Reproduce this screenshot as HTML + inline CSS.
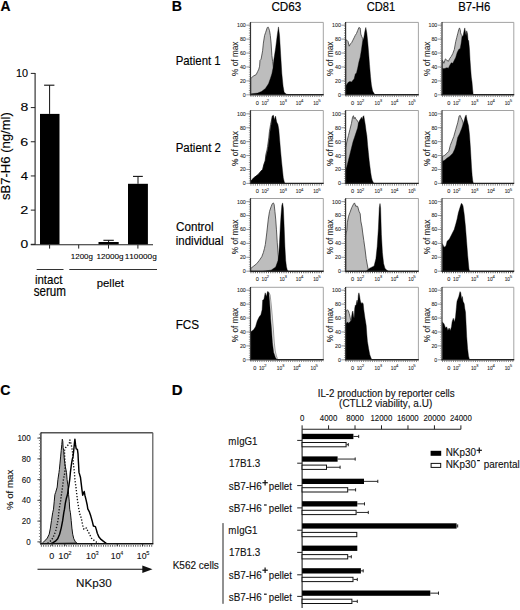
<!DOCTYPE html>
<html><head><meta charset="utf-8">
<style>
html,body{margin:0;padding:0;background:#fff;}
body{width:520px;height:610px;overflow:hidden;}
svg{display:block;}
text{font-family:"Liberation Sans", sans-serif;font-kerning:none;}
</style></head>
<body>
<svg width="520" height="610" viewBox="0 0 520 610">
<rect x="0" y="0" width="520" height="610" fill="#fff"/>
<text transform="matrix(0.13862 0 0 0.14535 0.55 11.20)" font-size="100" font-weight="bold" fill="#000" stroke="#000" stroke-width="1.23">A</text>
<text transform="matrix(0.14102 0 0 0.14244 171.86 10.80)" font-size="100" font-weight="bold" fill="#000" stroke="#000" stroke-width="1.21">B</text>
<text transform="matrix(0.14071 0 0 0.15181 0.32 394.60)" font-size="100" font-weight="bold" fill="#000" stroke="#000" stroke-width="1.25">C</text>
<text transform="matrix(0.15001 0 0 0.15262 171.80 394.60)" font-size="100" font-weight="bold" fill="#000" stroke="#000" stroke-width="1.21">D</text>
<line x1="35.10" y1="72.90" x2="35.10" y2="244.80" stroke="#222" stroke-width="1.1"/>
<line x1="30.80" y1="244.30" x2="35.10" y2="244.30" stroke="#222" stroke-width="1.0"/>
<text transform="matrix(0.13807 0 0 0.10884 20.46 248.10)" font-size="100" fill="#000" stroke="#000" stroke-width="1.07">0</text>
<line x1="30.80" y1="210.12" x2="35.10" y2="210.12" stroke="#222" stroke-width="1.0"/>
<text transform="matrix(0.14487 0 0 0.10884 20.27 213.92)" font-size="100" fill="#000" stroke="#000" stroke-width="1.04">2</text>
<line x1="30.80" y1="175.94" x2="35.10" y2="175.94" stroke="#222" stroke-width="1.0"/>
<text transform="matrix(0.13098 0 0 0.11047 20.70 179.74)" font-size="100" fill="#000" stroke="#000" stroke-width="1.10">4</text>
<line x1="30.80" y1="141.76" x2="35.10" y2="141.76" stroke="#222" stroke-width="1.0"/>
<text transform="matrix(0.14303 0 0 0.10884 20.27 145.56)" font-size="100" fill="#000" stroke="#000" stroke-width="1.05">6</text>
<line x1="30.80" y1="107.58" x2="35.10" y2="107.58" stroke="#222" stroke-width="1.0"/>
<text transform="matrix(0.14065 0 0 0.10884 20.39 111.38)" font-size="100" fill="#000" stroke="#000" stroke-width="1.06">8</text>
<line x1="30.80" y1="73.40" x2="35.10" y2="73.40" stroke="#222" stroke-width="1.0"/>
<text transform="matrix(0.10832 0 0 0.10884 15.97 77.20)" font-size="100" fill="#000" stroke="#000" stroke-width="1.20">10</text>
<line x1="30.80" y1="244.80" x2="153.00" y2="244.80" stroke="#222" stroke-width="1.1"/>
<line x1="49.60" y1="244.80" x2="49.60" y2="248.60" stroke="#222" stroke-width="1.0"/>
<line x1="78.70" y1="244.80" x2="78.70" y2="248.60" stroke="#222" stroke-width="1.0"/>
<line x1="108.50" y1="244.80" x2="108.50" y2="248.60" stroke="#222" stroke-width="1.0"/>
<line x1="137.90" y1="244.80" x2="137.90" y2="248.60" stroke="#222" stroke-width="1.0"/>
<rect x="40.00" y="113.90" width="19.50" height="130.40" fill="#000" stroke="none" stroke-width="0"/>
<rect x="98.50" y="242.00" width="20.20" height="2.30" fill="#000" stroke="none" stroke-width="0"/>
<rect x="128.00" y="183.80" width="19.90" height="60.50" fill="#000" stroke="none" stroke-width="0"/>
<line x1="49.60" y1="113.90" x2="49.60" y2="85.20" stroke="#111" stroke-width="1.0"/>
<line x1="44.10" y1="85.20" x2="54.40" y2="85.20" stroke="#111" stroke-width="1.1"/>
<line x1="108.60" y1="242.00" x2="108.60" y2="240.30" stroke="#111" stroke-width="1.0"/>
<line x1="103.40" y1="240.30" x2="113.80" y2="240.30" stroke="#111" stroke-width="1.1"/>
<line x1="138.00" y1="183.80" x2="138.00" y2="176.40" stroke="#111" stroke-width="1.0"/>
<line x1="133.00" y1="176.40" x2="142.80" y2="176.40" stroke="#111" stroke-width="1.1"/>
<text transform="matrix(0.07954 0 0 0.07018 70.79 259.30)" font-size="100" fill="#000" stroke="#000" stroke-width="1.13">1200g</text>
<text transform="matrix(0.08166 0 0 0.07018 96.38 259.30)" font-size="100" fill="#000" stroke="#000" stroke-width="1.11">12000g</text>
<text transform="matrix(0.08261 0 0 0.07018 124.67 259.30)" font-size="100" fill="#000" stroke="#000" stroke-width="1.11">110000g</text>
<line x1="36.70" y1="269.50" x2="63.50" y2="269.50" stroke="#333" stroke-width="1.0"/>
<line x1="69.30" y1="269.50" x2="157.00" y2="269.50" stroke="#333" stroke-width="1.0"/>
<text transform="matrix(0.11486 0 0 0.12144 34.93 283.50)" font-size="100" fill="#000" stroke="#000" stroke-width="1.23">intact</text>
<text transform="matrix(0.11659 0 0 0.13752 33.68 295.60)" font-size="100" fill="#000" stroke="#000" stroke-width="1.30">serum</text>
<text transform="matrix(0.11342 0 0 0.11316 96.77 286.50)" font-size="100" fill="#000" stroke="#000" stroke-width="1.20">pellet</text>
<text transform="matrix(0 -0.13054 0.12558 0 9.90 199.96)" font-size="100" fill="#000" stroke="#000" stroke-width="1.18">sB7-H6 (ng/ml)</text>
<text transform="matrix(0.11698 0 0 0.13319 271.41 10.80)" font-size="100" fill="#000" stroke="#000" stroke-width="1.28">CD63</text>
<text transform="matrix(0.11152 0 0 0.13319 366.63 10.80)" font-size="100" fill="#000" stroke="#000" stroke-width="1.31">CD81</text>
<text transform="matrix(0.11372 0 0 0.13033 458.17 10.80)" font-size="100" fill="#000" stroke="#000" stroke-width="1.28">B7-H6</text>
<text transform="matrix(0.11424 0 0 0.11868 175.66 65.40)" font-size="100" fill="#000" stroke="#000" stroke-width="1.22">Patient 1</text>
<text transform="matrix(0.11481 0 0 0.11868 175.66 152.10)" font-size="100" fill="#000" stroke="#000" stroke-width="1.22">Patient 2</text>
<text transform="matrix(0.11655 0 0 0.12006 176.01 230.90)" font-size="100" fill="#000" stroke="#000" stroke-width="1.22">Control</text>
<text transform="matrix(0.11448 0 0 0.12006 175.83 244.70)" font-size="100" fill="#000" stroke="#000" stroke-width="1.23">individual</text>
<text transform="matrix(0.11752 0 0 0.12460 175.64 328.50)" font-size="100" fill="#000" stroke="#000" stroke-width="1.24">FCS</text>
<rect x="250.50" y="22.40" width="72.80" height="72.40" fill="#fff" stroke="none" stroke-width="0"/>
<path d="M250.77,95.10 L250.77,78.00 L251.50,77.69 L253.80,75.80 L256.20,74.60 L257.69,71.51 L258.80,69.20 L259.60,66.20 L260.00,60.31 L261.08,59.23 L262.62,50.77 L263.38,43.08 L264.62,35.38 L265.69,32.31 L267.23,27.69 L268.00,26.92 L268.77,28.46 L269.54,30.77 L270.31,35.38 L271.08,43.08 L271.85,55.38 L272.62,61.54 L274.15,70.77 L275.69,81.54 L277.23,89.23 L278.77,93.08 L280.31,94.80 L280.31,95.10" fill="#bdbdbd" stroke="#3a3a3a" stroke-width="0.8" stroke-linejoin="round"/>
<path d="M250.77,95.10 L250.77,94.00 L251.50,93.80 L257.69,93.11 L261.50,91.51 L265.40,88.51 L268.50,83.80 L270.40,78.51 L271.90,73.80 L273.10,67.69 L273.80,60.00 L275.69,47.69 L277.23,35.38 L278.46,26.92 L279.54,35.38 L280.62,53.85 L281.85,73.85 L283.08,86.15 L284.15,92.31 L286.46,94.15 L289.54,94.80 L289.54,95.10" fill="#000" stroke="#000" stroke-width="0.4" stroke-linejoin="round"/>
<line x1="250.50" y1="22.40" x2="323.30" y2="22.40" stroke="#8a8a8a" stroke-width="0.8"/>
<line x1="323.30" y1="22.40" x2="323.30" y2="94.80" stroke="#9a9a9a" stroke-width="0.9"/>
<line x1="250.50" y1="22.10" x2="250.50" y2="95.30" stroke="#333" stroke-width="1.2"/>
<line x1="249.90" y1="94.80" x2="323.70" y2="94.80" stroke="#222" stroke-width="1.4"/>
<line x1="250.50" y1="96.20" x2="323.30" y2="96.20" stroke="#555" stroke-width="1.3" stroke-dasharray="0.9 1.3"/>
<line x1="249.40" y1="23.40" x2="249.40" y2="94.80" stroke="#888" stroke-width="1.1" stroke-dasharray="0.8 1.5"/>
<line x1="246.30" y1="25.20" x2="250.50" y2="25.20" stroke="#555" stroke-width="0.6"/>
<text transform="matrix(0.05320 0 0 0.05585 236.93 27.15)" font-size="100" fill="#222" stroke="#222" stroke-width="1.23">100</text>
<line x1="246.30" y1="39.12" x2="250.50" y2="39.12" stroke="#555" stroke-width="0.6"/>
<text transform="matrix(0.05320 0 0 0.05585 239.89 41.07)" font-size="100" fill="#222" stroke="#222" stroke-width="1.23">80</text>
<line x1="246.30" y1="53.04" x2="250.50" y2="53.04" stroke="#555" stroke-width="0.6"/>
<text transform="matrix(0.05320 0 0 0.05585 239.89 54.99)" font-size="100" fill="#222" stroke="#222" stroke-width="1.23">60</text>
<line x1="246.30" y1="66.96" x2="250.50" y2="66.96" stroke="#555" stroke-width="0.6"/>
<text transform="matrix(0.05320 0 0 0.05585 239.89 68.91)" font-size="100" fill="#222" stroke="#222" stroke-width="1.23">40</text>
<line x1="246.30" y1="80.88" x2="250.50" y2="80.88" stroke="#555" stroke-width="0.6"/>
<text transform="matrix(0.05320 0 0 0.05585 239.89 82.83)" font-size="100" fill="#222" stroke="#222" stroke-width="1.23">20</text>
<line x1="246.30" y1="94.80" x2="250.50" y2="94.80" stroke="#555" stroke-width="0.6"/>
<text transform="matrix(0.05320 0 0 0.05585 242.85 96.75)" font-size="100" fill="#222" stroke="#222" stroke-width="1.23">0</text>
<text transform="matrix(0 -0.08249 0.08568 0 238.30 75.89)" font-size="100" fill="#222" stroke="#222" stroke-width="1.22">% of max</text>
<text transform="matrix(0.05648 0 0 0.05299 255.78 104.50)" font-size="100" fill="#222" stroke="#222" stroke-width="1.16">0</text>
<text transform="matrix(0.04814 0 0 0.05299 261.53 104.50)" font-size="100" fill="#222" stroke="#222" stroke-width="1.26">10</text>
<text transform="matrix(0.04610 0 0 0.04153 266.57 101.90)" font-size="100" fill="#222" stroke="#222" stroke-width="1.14">2</text>
<text transform="matrix(0.04814 0 0 0.05299 279.43 104.50)" font-size="100" fill="#222" stroke="#222" stroke-width="1.26">10</text>
<text transform="matrix(0.04429 0 0 0.04153 284.53 101.90)" font-size="100" fill="#222" stroke="#222" stroke-width="1.16">3</text>
<text transform="matrix(0.04814 0 0 0.05299 295.73 104.50)" font-size="100" fill="#222" stroke="#222" stroke-width="1.26">10</text>
<text transform="matrix(0.04167 0 0 0.04215 300.90 101.90)" font-size="100" fill="#222" stroke="#222" stroke-width="1.21">4</text>
<text transform="matrix(0.04814 0 0 0.05299 313.13 104.50)" font-size="100" fill="#222" stroke="#222" stroke-width="1.26">10</text>
<text transform="matrix(0.04429 0 0 0.04215 318.22 101.90)" font-size="100" fill="#222" stroke="#222" stroke-width="1.17">5</text>
<rect x="345.60" y="22.40" width="72.80" height="72.40" fill="#fff" stroke="none" stroke-width="0"/>
<path d="M345.77,95.10 L345.77,39.69 L346.80,40.20 L348.00,41.40 L349.20,46.20 L350.50,43.80 L351.70,42.60 L352.90,40.20 L354.10,37.80 L355.30,35.31 L356.50,33.51 L357.70,30.51 L358.90,27.51 L360.20,28.11 L360.80,34.11 L361.70,36.51 L362.60,38.40 L363.46,41.54 L364.23,50.77 L364.85,94.80 L364.85,95.10" fill="#bdbdbd" stroke="#3a3a3a" stroke-width="0.8" stroke-linejoin="round"/>
<path d="M345.77,95.10 L345.77,85.54 L346.50,85.00 L348.00,82.60 L349.80,81.40 L351.70,82.00 L352.90,80.20 L354.10,79.00 L355.30,74.11 L356.50,72.91 L357.70,68.11 L358.90,62.00 L360.20,57.20 L361.40,49.91 L362.60,41.40 L363.80,37.80 L364.80,31.71 L365.80,27.51 L366.80,32.91 L367.70,41.40 L368.60,52.31 L369.50,64.40 L370.50,76.51 L371.40,85.00 L372.60,91.11 L374.10,93.51 L375.31,94.80 L375.31,95.10" fill="#000" stroke="#000" stroke-width="0.4" stroke-linejoin="round"/>
<line x1="345.60" y1="22.40" x2="418.40" y2="22.40" stroke="#8a8a8a" stroke-width="0.8"/>
<line x1="418.40" y1="22.40" x2="418.40" y2="94.80" stroke="#9a9a9a" stroke-width="0.9"/>
<line x1="345.60" y1="22.10" x2="345.60" y2="95.30" stroke="#333" stroke-width="1.2"/>
<line x1="345.00" y1="94.80" x2="418.80" y2="94.80" stroke="#222" stroke-width="1.4"/>
<line x1="345.60" y1="96.20" x2="418.40" y2="96.20" stroke="#555" stroke-width="1.3" stroke-dasharray="0.9 1.3"/>
<line x1="344.50" y1="23.40" x2="344.50" y2="94.80" stroke="#888" stroke-width="1.1" stroke-dasharray="0.8 1.5"/>
<line x1="341.40" y1="25.20" x2="345.60" y2="25.20" stroke="#555" stroke-width="0.6"/>
<text transform="matrix(0.05320 0 0 0.05585 332.03 27.15)" font-size="100" fill="#222" stroke="#222" stroke-width="1.23">100</text>
<line x1="341.40" y1="39.12" x2="345.60" y2="39.12" stroke="#555" stroke-width="0.6"/>
<text transform="matrix(0.05320 0 0 0.05585 334.99 41.07)" font-size="100" fill="#222" stroke="#222" stroke-width="1.23">80</text>
<line x1="341.40" y1="53.04" x2="345.60" y2="53.04" stroke="#555" stroke-width="0.6"/>
<text transform="matrix(0.05320 0 0 0.05585 334.99 54.99)" font-size="100" fill="#222" stroke="#222" stroke-width="1.23">60</text>
<line x1="341.40" y1="66.96" x2="345.60" y2="66.96" stroke="#555" stroke-width="0.6"/>
<text transform="matrix(0.05320 0 0 0.05585 334.99 68.91)" font-size="100" fill="#222" stroke="#222" stroke-width="1.23">40</text>
<line x1="341.40" y1="80.88" x2="345.60" y2="80.88" stroke="#555" stroke-width="0.6"/>
<text transform="matrix(0.05320 0 0 0.05585 334.99 82.83)" font-size="100" fill="#222" stroke="#222" stroke-width="1.23">20</text>
<line x1="341.40" y1="94.80" x2="345.60" y2="94.80" stroke="#555" stroke-width="0.6"/>
<text transform="matrix(0.05320 0 0 0.05585 337.95 96.75)" font-size="100" fill="#222" stroke="#222" stroke-width="1.23">0</text>
<text transform="matrix(0 -0.08249 0.08568 0 333.40 75.89)" font-size="100" fill="#222" stroke="#222" stroke-width="1.22">% of max</text>
<text transform="matrix(0.05648 0 0 0.05299 350.88 104.50)" font-size="100" fill="#222" stroke="#222" stroke-width="1.16">0</text>
<text transform="matrix(0.04814 0 0 0.05299 356.63 104.50)" font-size="100" fill="#222" stroke="#222" stroke-width="1.26">10</text>
<text transform="matrix(0.04610 0 0 0.04153 361.67 101.90)" font-size="100" fill="#222" stroke="#222" stroke-width="1.14">2</text>
<text transform="matrix(0.04814 0 0 0.05299 374.53 104.50)" font-size="100" fill="#222" stroke="#222" stroke-width="1.26">10</text>
<text transform="matrix(0.04429 0 0 0.04153 379.63 101.90)" font-size="100" fill="#222" stroke="#222" stroke-width="1.16">3</text>
<text transform="matrix(0.04814 0 0 0.05299 390.83 104.50)" font-size="100" fill="#222" stroke="#222" stroke-width="1.26">10</text>
<text transform="matrix(0.04167 0 0 0.04215 396.00 101.90)" font-size="100" fill="#222" stroke="#222" stroke-width="1.21">4</text>
<text transform="matrix(0.04814 0 0 0.05299 408.23 104.50)" font-size="100" fill="#222" stroke="#222" stroke-width="1.26">10</text>
<text transform="matrix(0.04429 0 0 0.04215 413.32 101.90)" font-size="100" fill="#222" stroke="#222" stroke-width="1.17">5</text>
<rect x="442.00" y="22.40" width="71.80" height="72.40" fill="#fff" stroke="none" stroke-width="0"/>
<path d="M442.31,95.10 L442.31,60.62 L442.50,60.31 L443.90,63.31 L445.40,58.91 L446.90,60.31 L448.40,61.31 L449.80,58.40 L451.30,56.40 L452.80,53.51 L454.30,49.51 L455.70,41.69 L456.70,37.69 L457.70,33.80 L458.70,29.91 L459.50,27.91 L460.20,29.91 L460.60,32.80 L461.10,34.31 L462.10,35.80 L463.38,50.77 L464.15,94.80 L464.15,95.10" fill="#bdbdbd" stroke="#3a3a3a" stroke-width="0.8" stroke-linejoin="round"/>
<path d="M442.31,95.10 L442.31,68.31 L442.50,68.20 L443.90,68.71 L445.40,68.20 L446.90,67.69 L448.40,68.20 L449.80,65.31 L451.30,62.80 L452.80,63.31 L454.30,60.31 L455.70,57.40 L457.20,52.51 L458.70,49.51 L460.20,48.51 L461.10,43.60 L462.10,36.71 L463.10,35.80 L464.10,30.80 L464.80,27.91 L465.40,31.80 L466.10,35.80 L466.70,30.80 L467.50,33.80 L468.00,39.69 L468.70,40.71 L469.50,49.51 L470.00,59.40 L470.70,69.20 L471.30,77.11 L472.00,82.00 L472.62,89.23 L473.08,93.85 L473.69,94.80 L473.69,95.10" fill="#000" stroke="#000" stroke-width="0.4" stroke-linejoin="round"/>
<line x1="442.00" y1="22.40" x2="513.80" y2="22.40" stroke="#8a8a8a" stroke-width="0.8"/>
<line x1="513.80" y1="22.40" x2="513.80" y2="94.80" stroke="#9a9a9a" stroke-width="0.9"/>
<line x1="442.00" y1="22.10" x2="442.00" y2="95.30" stroke="#333" stroke-width="1.2"/>
<line x1="441.40" y1="94.80" x2="514.20" y2="94.80" stroke="#222" stroke-width="1.4"/>
<line x1="442.00" y1="96.20" x2="513.80" y2="96.20" stroke="#555" stroke-width="1.3" stroke-dasharray="0.9 1.3"/>
<line x1="440.90" y1="23.40" x2="440.90" y2="94.80" stroke="#888" stroke-width="1.1" stroke-dasharray="0.8 1.5"/>
<line x1="437.80" y1="25.20" x2="442.00" y2="25.20" stroke="#555" stroke-width="0.6"/>
<text transform="matrix(0.05320 0 0 0.05585 428.43 27.15)" font-size="100" fill="#222" stroke="#222" stroke-width="1.23">100</text>
<line x1="437.80" y1="39.12" x2="442.00" y2="39.12" stroke="#555" stroke-width="0.6"/>
<text transform="matrix(0.05320 0 0 0.05585 431.39 41.07)" font-size="100" fill="#222" stroke="#222" stroke-width="1.23">80</text>
<line x1="437.80" y1="53.04" x2="442.00" y2="53.04" stroke="#555" stroke-width="0.6"/>
<text transform="matrix(0.05320 0 0 0.05585 431.39 54.99)" font-size="100" fill="#222" stroke="#222" stroke-width="1.23">60</text>
<line x1="437.80" y1="66.96" x2="442.00" y2="66.96" stroke="#555" stroke-width="0.6"/>
<text transform="matrix(0.05320 0 0 0.05585 431.39 68.91)" font-size="100" fill="#222" stroke="#222" stroke-width="1.23">40</text>
<line x1="437.80" y1="80.88" x2="442.00" y2="80.88" stroke="#555" stroke-width="0.6"/>
<text transform="matrix(0.05320 0 0 0.05585 431.39 82.83)" font-size="100" fill="#222" stroke="#222" stroke-width="1.23">20</text>
<line x1="437.80" y1="94.80" x2="442.00" y2="94.80" stroke="#555" stroke-width="0.6"/>
<text transform="matrix(0.05320 0 0 0.05585 434.35 96.75)" font-size="100" fill="#222" stroke="#222" stroke-width="1.23">0</text>
<text transform="matrix(0 -0.08249 0.08568 0 429.80 75.89)" font-size="100" fill="#222" stroke="#222" stroke-width="1.22">% of max</text>
<text transform="matrix(0.05648 0 0 0.05299 447.28 104.50)" font-size="100" fill="#222" stroke="#222" stroke-width="1.16">0</text>
<text transform="matrix(0.04814 0 0 0.05299 453.03 104.50)" font-size="100" fill="#222" stroke="#222" stroke-width="1.26">10</text>
<text transform="matrix(0.04610 0 0 0.04153 458.07 101.90)" font-size="100" fill="#222" stroke="#222" stroke-width="1.14">2</text>
<text transform="matrix(0.04814 0 0 0.05299 470.93 104.50)" font-size="100" fill="#222" stroke="#222" stroke-width="1.26">10</text>
<text transform="matrix(0.04429 0 0 0.04153 476.03 101.90)" font-size="100" fill="#222" stroke="#222" stroke-width="1.16">3</text>
<text transform="matrix(0.04814 0 0 0.05299 487.23 104.50)" font-size="100" fill="#222" stroke="#222" stroke-width="1.26">10</text>
<text transform="matrix(0.04167 0 0 0.04215 492.40 101.90)" font-size="100" fill="#222" stroke="#222" stroke-width="1.21">4</text>
<text transform="matrix(0.04814 0 0 0.05299 504.63 104.50)" font-size="100" fill="#222" stroke="#222" stroke-width="1.26">10</text>
<text transform="matrix(0.04429 0 0 0.04215 509.72 101.90)" font-size="100" fill="#222" stroke="#222" stroke-width="1.17">5</text>
<rect x="250.50" y="110.50" width="72.80" height="72.90" fill="#fff" stroke="none" stroke-width="0"/>
<path d="M250.50,183.70 L250.50,180.62 L251.80,180.31 L253.60,177.91 L256.10,176.11 L258.50,174.20 L260.90,171.20 L262.70,169.40 L263.90,164.51 L265.20,160.91 L265.78,154.80 L266.98,150.00 L267.58,146.40 L268.78,137.91 L269.38,131.80 L270.58,124.51 L272.40,116.11 L273.30,115.51 L273.30,183.70" fill="#bdbdbd" stroke="#3a3a3a" stroke-width="0.8" stroke-linejoin="round"/>
<path d="M250.50,183.70 L250.50,180.62 L251.80,180.31 L253.60,177.91 L256.10,176.11 L258.50,174.20 L260.90,171.20 L262.70,169.40 L263.90,164.51 L265.20,160.91 L266.40,154.80 L267.60,150.00 L268.20,146.40 L269.40,137.91 L270.00,131.80 L271.20,124.51 L272.40,116.11 L273.30,115.51 L274.20,119.71 L275.50,116.11 L276.70,122.11 L277.90,124.51 L278.80,129.40 L279.70,140.31 L280.50,150.00 L281.50,160.91 L282.50,170.60 L283.30,177.91 L284.20,181.51 L284.92,183.40 L284.92,183.70" fill="#000" stroke="#000" stroke-width="0.4" stroke-linejoin="round"/>
<line x1="250.50" y1="110.50" x2="323.30" y2="110.50" stroke="#8a8a8a" stroke-width="0.8"/>
<line x1="323.30" y1="110.50" x2="323.30" y2="183.40" stroke="#9a9a9a" stroke-width="0.9"/>
<line x1="250.50" y1="110.20" x2="250.50" y2="183.90" stroke="#333" stroke-width="1.2"/>
<line x1="249.90" y1="183.40" x2="323.70" y2="183.40" stroke="#222" stroke-width="1.4"/>
<line x1="250.50" y1="184.80" x2="323.30" y2="184.80" stroke="#555" stroke-width="1.3" stroke-dasharray="0.9 1.3"/>
<line x1="249.40" y1="111.50" x2="249.40" y2="183.40" stroke="#888" stroke-width="1.1" stroke-dasharray="0.8 1.5"/>
<line x1="246.30" y1="113.80" x2="250.50" y2="113.80" stroke="#555" stroke-width="0.6"/>
<text transform="matrix(0.05320 0 0 0.05585 236.93 115.75)" font-size="100" fill="#222" stroke="#222" stroke-width="1.23">100</text>
<line x1="246.30" y1="127.72" x2="250.50" y2="127.72" stroke="#555" stroke-width="0.6"/>
<text transform="matrix(0.05320 0 0 0.05585 239.89 129.67)" font-size="100" fill="#222" stroke="#222" stroke-width="1.23">80</text>
<line x1="246.30" y1="141.64" x2="250.50" y2="141.64" stroke="#555" stroke-width="0.6"/>
<text transform="matrix(0.05320 0 0 0.05585 239.89 143.59)" font-size="100" fill="#222" stroke="#222" stroke-width="1.23">60</text>
<line x1="246.30" y1="155.56" x2="250.50" y2="155.56" stroke="#555" stroke-width="0.6"/>
<text transform="matrix(0.05320 0 0 0.05585 239.89 157.51)" font-size="100" fill="#222" stroke="#222" stroke-width="1.23">40</text>
<line x1="246.30" y1="169.48" x2="250.50" y2="169.48" stroke="#555" stroke-width="0.6"/>
<text transform="matrix(0.05320 0 0 0.05585 239.89 171.43)" font-size="100" fill="#222" stroke="#222" stroke-width="1.23">20</text>
<line x1="246.30" y1="183.40" x2="250.50" y2="183.40" stroke="#555" stroke-width="0.6"/>
<text transform="matrix(0.05320 0 0 0.05585 242.85 185.35)" font-size="100" fill="#222" stroke="#222" stroke-width="1.23">0</text>
<text transform="matrix(0 -0.08371 0.08568 0 238.30 166.00)" font-size="100" fill="#222" stroke="#222" stroke-width="1.21">% of max</text>
<text transform="matrix(0.05648 0 0 0.05299 255.78 193.10)" font-size="100" fill="#222" stroke="#222" stroke-width="1.16">0</text>
<text transform="matrix(0.04814 0 0 0.05299 261.53 193.10)" font-size="100" fill="#222" stroke="#222" stroke-width="1.26">10</text>
<text transform="matrix(0.04610 0 0 0.04153 266.57 190.50)" font-size="100" fill="#222" stroke="#222" stroke-width="1.14">2</text>
<text transform="matrix(0.04814 0 0 0.05299 279.43 193.10)" font-size="100" fill="#222" stroke="#222" stroke-width="1.26">10</text>
<text transform="matrix(0.04429 0 0 0.04153 284.53 190.50)" font-size="100" fill="#222" stroke="#222" stroke-width="1.16">3</text>
<text transform="matrix(0.04814 0 0 0.05299 295.73 193.10)" font-size="100" fill="#222" stroke="#222" stroke-width="1.26">10</text>
<text transform="matrix(0.04167 0 0 0.04215 300.90 190.50)" font-size="100" fill="#222" stroke="#222" stroke-width="1.21">4</text>
<text transform="matrix(0.04814 0 0 0.05299 313.13 193.10)" font-size="100" fill="#222" stroke="#222" stroke-width="1.26">10</text>
<text transform="matrix(0.04429 0 0 0.04215 318.22 190.50)" font-size="100" fill="#222" stroke="#222" stroke-width="1.17">5</text>
<rect x="345.60" y="110.50" width="72.80" height="72.90" fill="#fff" stroke="none" stroke-width="0"/>
<path d="M345.77,183.70 L345.77,148.00 L346.85,141.85 L348.38,135.69 L349.92,129.54 L351.46,123.38 L352.54,117.23 L353.46,115.69 L354.08,118.77 L355.00,117.23 L356.08,119.54 L357.15,120.31 L358.38,122.62 L359.62,126.46 L360.69,138.77 L361.46,183.40 L361.46,183.70" fill="#bdbdbd" stroke="#3a3a3a" stroke-width="0.8" stroke-linejoin="round"/>
<path d="M345.77,183.70 L345.77,169.54 L346.85,166.46 L348.38,160.31 L349.92,154.15 L351.46,148.00 L353.00,141.85 L354.54,137.23 L356.08,132.62 L357.62,128.00 L358.38,123.38 L359.62,120.31 L360.69,118.77 L361.46,117.23 L362.23,119.54 L363.00,116.46 L363.77,115.69 L364.54,120.31 L365.31,124.92 L366.08,131.08 L366.85,135.69 L367.62,144.92 L368.38,152.62 L369.15,160.31 L369.92,166.46 L370.69,172.62 L371.46,177.23 L372.23,180.31 L373.77,183.40 L375.31,183.40 L375.31,183.70" fill="#000" stroke="#000" stroke-width="0.4" stroke-linejoin="round"/>
<line x1="345.60" y1="110.50" x2="418.40" y2="110.50" stroke="#8a8a8a" stroke-width="0.8"/>
<line x1="418.40" y1="110.50" x2="418.40" y2="183.40" stroke="#9a9a9a" stroke-width="0.9"/>
<line x1="345.60" y1="110.20" x2="345.60" y2="183.90" stroke="#333" stroke-width="1.2"/>
<line x1="345.00" y1="183.40" x2="418.80" y2="183.40" stroke="#222" stroke-width="1.4"/>
<line x1="345.60" y1="184.80" x2="418.40" y2="184.80" stroke="#555" stroke-width="1.3" stroke-dasharray="0.9 1.3"/>
<line x1="344.50" y1="111.50" x2="344.50" y2="183.40" stroke="#888" stroke-width="1.1" stroke-dasharray="0.8 1.5"/>
<line x1="341.40" y1="113.80" x2="345.60" y2="113.80" stroke="#555" stroke-width="0.6"/>
<text transform="matrix(0.05320 0 0 0.05585 332.03 115.75)" font-size="100" fill="#222" stroke="#222" stroke-width="1.23">100</text>
<line x1="341.40" y1="127.72" x2="345.60" y2="127.72" stroke="#555" stroke-width="0.6"/>
<text transform="matrix(0.05320 0 0 0.05585 334.99 129.67)" font-size="100" fill="#222" stroke="#222" stroke-width="1.23">80</text>
<line x1="341.40" y1="141.64" x2="345.60" y2="141.64" stroke="#555" stroke-width="0.6"/>
<text transform="matrix(0.05320 0 0 0.05585 334.99 143.59)" font-size="100" fill="#222" stroke="#222" stroke-width="1.23">60</text>
<line x1="341.40" y1="155.56" x2="345.60" y2="155.56" stroke="#555" stroke-width="0.6"/>
<text transform="matrix(0.05320 0 0 0.05585 334.99 157.51)" font-size="100" fill="#222" stroke="#222" stroke-width="1.23">40</text>
<line x1="341.40" y1="169.48" x2="345.60" y2="169.48" stroke="#555" stroke-width="0.6"/>
<text transform="matrix(0.05320 0 0 0.05585 334.99 171.43)" font-size="100" fill="#222" stroke="#222" stroke-width="1.23">20</text>
<line x1="341.40" y1="183.40" x2="345.60" y2="183.40" stroke="#555" stroke-width="0.6"/>
<text transform="matrix(0.05320 0 0 0.05585 337.95 185.35)" font-size="100" fill="#222" stroke="#222" stroke-width="1.23">0</text>
<text transform="matrix(0 -0.08371 0.08568 0 333.40 166.00)" font-size="100" fill="#222" stroke="#222" stroke-width="1.21">% of max</text>
<text transform="matrix(0.05648 0 0 0.05299 350.88 193.10)" font-size="100" fill="#222" stroke="#222" stroke-width="1.16">0</text>
<text transform="matrix(0.04814 0 0 0.05299 356.63 193.10)" font-size="100" fill="#222" stroke="#222" stroke-width="1.26">10</text>
<text transform="matrix(0.04610 0 0 0.04153 361.67 190.50)" font-size="100" fill="#222" stroke="#222" stroke-width="1.14">2</text>
<text transform="matrix(0.04814 0 0 0.05299 374.53 193.10)" font-size="100" fill="#222" stroke="#222" stroke-width="1.26">10</text>
<text transform="matrix(0.04429 0 0 0.04153 379.63 190.50)" font-size="100" fill="#222" stroke="#222" stroke-width="1.16">3</text>
<text transform="matrix(0.04814 0 0 0.05299 390.83 193.10)" font-size="100" fill="#222" stroke="#222" stroke-width="1.26">10</text>
<text transform="matrix(0.04167 0 0 0.04215 396.00 190.50)" font-size="100" fill="#222" stroke="#222" stroke-width="1.21">4</text>
<text transform="matrix(0.04814 0 0 0.05299 408.23 193.10)" font-size="100" fill="#222" stroke="#222" stroke-width="1.26">10</text>
<text transform="matrix(0.04429 0 0 0.04215 413.32 190.50)" font-size="100" fill="#222" stroke="#222" stroke-width="1.17">5</text>
<rect x="442.00" y="110.50" width="71.80" height="72.90" fill="#fff" stroke="none" stroke-width="0"/>
<path d="M442.31,183.70 L442.31,156.62 L443.00,156.20 L444.90,155.20 L446.90,153.31 L448.80,151.31 L450.30,145.40 L451.80,141.51 L453.80,136.51 L455.69,129.69 L457.69,122.80 L459.20,115.91 L460.20,115.40 L461.11,117.91 L462.11,119.80 L463.11,122.80 L464.15,131.08 L464.92,183.40 L464.92,183.70" fill="#bdbdbd" stroke="#3a3a3a" stroke-width="0.8" stroke-linejoin="round"/>
<path d="M442.31,183.70 L442.31,161.54 L443.00,161.11 L444.90,160.11 L446.90,158.20 L449.80,156.20 L452.80,153.31 L454.70,149.31 L456.20,144.40 L457.69,137.51 L459.69,133.60 L461.60,128.71 L463.60,122.80 L465.10,116.91 L466.10,114.91 L467.00,119.80 L468.50,125.69 L469.50,134.60 L470.50,149.31 L471.50,167.00 L472.15,175.69 L472.77,181.08 L473.38,183.40 L473.38,183.70" fill="#000" stroke="#000" stroke-width="0.4" stroke-linejoin="round"/>
<line x1="442.00" y1="110.50" x2="513.80" y2="110.50" stroke="#8a8a8a" stroke-width="0.8"/>
<line x1="513.80" y1="110.50" x2="513.80" y2="183.40" stroke="#9a9a9a" stroke-width="0.9"/>
<line x1="442.00" y1="110.20" x2="442.00" y2="183.90" stroke="#333" stroke-width="1.2"/>
<line x1="441.40" y1="183.40" x2="514.20" y2="183.40" stroke="#222" stroke-width="1.4"/>
<line x1="442.00" y1="184.80" x2="513.80" y2="184.80" stroke="#555" stroke-width="1.3" stroke-dasharray="0.9 1.3"/>
<line x1="440.90" y1="111.50" x2="440.90" y2="183.40" stroke="#888" stroke-width="1.1" stroke-dasharray="0.8 1.5"/>
<line x1="437.80" y1="113.80" x2="442.00" y2="113.80" stroke="#555" stroke-width="0.6"/>
<text transform="matrix(0.05320 0 0 0.05585 428.43 115.75)" font-size="100" fill="#222" stroke="#222" stroke-width="1.23">100</text>
<line x1="437.80" y1="127.72" x2="442.00" y2="127.72" stroke="#555" stroke-width="0.6"/>
<text transform="matrix(0.05320 0 0 0.05585 431.39 129.67)" font-size="100" fill="#222" stroke="#222" stroke-width="1.23">80</text>
<line x1="437.80" y1="141.64" x2="442.00" y2="141.64" stroke="#555" stroke-width="0.6"/>
<text transform="matrix(0.05320 0 0 0.05585 431.39 143.59)" font-size="100" fill="#222" stroke="#222" stroke-width="1.23">60</text>
<line x1="437.80" y1="155.56" x2="442.00" y2="155.56" stroke="#555" stroke-width="0.6"/>
<text transform="matrix(0.05320 0 0 0.05585 431.39 157.51)" font-size="100" fill="#222" stroke="#222" stroke-width="1.23">40</text>
<line x1="437.80" y1="169.48" x2="442.00" y2="169.48" stroke="#555" stroke-width="0.6"/>
<text transform="matrix(0.05320 0 0 0.05585 431.39 171.43)" font-size="100" fill="#222" stroke="#222" stroke-width="1.23">20</text>
<line x1="437.80" y1="183.40" x2="442.00" y2="183.40" stroke="#555" stroke-width="0.6"/>
<text transform="matrix(0.05320 0 0 0.05585 434.35 185.35)" font-size="100" fill="#222" stroke="#222" stroke-width="1.23">0</text>
<text transform="matrix(0 -0.08371 0.08568 0 429.80 166.00)" font-size="100" fill="#222" stroke="#222" stroke-width="1.21">% of max</text>
<text transform="matrix(0.05648 0 0 0.05299 447.28 193.10)" font-size="100" fill="#222" stroke="#222" stroke-width="1.16">0</text>
<text transform="matrix(0.04814 0 0 0.05299 453.03 193.10)" font-size="100" fill="#222" stroke="#222" stroke-width="1.26">10</text>
<text transform="matrix(0.04610 0 0 0.04153 458.07 190.50)" font-size="100" fill="#222" stroke="#222" stroke-width="1.14">2</text>
<text transform="matrix(0.04814 0 0 0.05299 470.93 193.10)" font-size="100" fill="#222" stroke="#222" stroke-width="1.26">10</text>
<text transform="matrix(0.04429 0 0 0.04153 476.03 190.50)" font-size="100" fill="#222" stroke="#222" stroke-width="1.16">3</text>
<text transform="matrix(0.04814 0 0 0.05299 487.23 193.10)" font-size="100" fill="#222" stroke="#222" stroke-width="1.26">10</text>
<text transform="matrix(0.04167 0 0 0.04215 492.40 190.50)" font-size="100" fill="#222" stroke="#222" stroke-width="1.21">4</text>
<text transform="matrix(0.04814 0 0 0.05299 504.63 193.10)" font-size="100" fill="#222" stroke="#222" stroke-width="1.26">10</text>
<text transform="matrix(0.04429 0 0 0.04215 509.72 190.50)" font-size="100" fill="#222" stroke="#222" stroke-width="1.17">5</text>
<rect x="250.50" y="198.50" width="72.80" height="72.70" fill="#fff" stroke="none" stroke-width="0"/>
<path d="M250.77,271.50 L250.77,268.62 L250.92,268.31 L253.80,266.00 L256.71,263.69 L259.51,260.15 L261.80,256.71 L263.31,252.71 L264.40,248.71 L265.31,244.60 L265.91,240.00 L266.77,232.92 L267.54,226.00 L268.31,219.08 L269.54,211.38 L271.08,206.77 L272.31,203.69 L273.38,202.92 L274.15,204.46 L274.92,211.38 L275.69,219.08 L276.46,229.85 L277.23,242.15 L278.00,252.92 L278.77,260.62 L280.31,266.77 L281.85,269.85 L283.38,271.20 L283.38,271.50" fill="#bdbdbd" stroke="#3a3a3a" stroke-width="0.8" stroke-linejoin="round"/>
<path d="M263.38,271.50 L263.38,271.20 L271.08,270.15 L275.69,267.08 L278.00,260.62 L278.77,254.46 L279.54,242.15 L280.31,226.77 L281.08,214.46 L281.85,205.23 L282.62,202.92 L283.38,208.31 L284.15,226.77 L284.92,246.77 L285.69,260.62 L286.46,266.77 L287.23,269.85 L288.31,271.20 L288.31,271.50" fill="#000" stroke="#000" stroke-width="0.4" stroke-linejoin="round"/>
<line x1="250.50" y1="198.50" x2="323.30" y2="198.50" stroke="#8a8a8a" stroke-width="0.8"/>
<line x1="323.30" y1="198.50" x2="323.30" y2="271.20" stroke="#9a9a9a" stroke-width="0.9"/>
<line x1="250.50" y1="198.20" x2="250.50" y2="271.70" stroke="#333" stroke-width="1.2"/>
<line x1="249.90" y1="271.20" x2="323.70" y2="271.20" stroke="#222" stroke-width="1.4"/>
<line x1="250.50" y1="272.60" x2="323.30" y2="272.60" stroke="#555" stroke-width="1.3" stroke-dasharray="0.9 1.3"/>
<line x1="249.40" y1="199.50" x2="249.40" y2="271.20" stroke="#888" stroke-width="1.1" stroke-dasharray="0.8 1.5"/>
<line x1="246.30" y1="201.60" x2="250.50" y2="201.60" stroke="#555" stroke-width="0.6"/>
<text transform="matrix(0.05320 0 0 0.05585 236.93 203.55)" font-size="100" fill="#222" stroke="#222" stroke-width="1.23">100</text>
<line x1="246.30" y1="215.52" x2="250.50" y2="215.52" stroke="#555" stroke-width="0.6"/>
<text transform="matrix(0.05320 0 0 0.05585 239.89 217.47)" font-size="100" fill="#222" stroke="#222" stroke-width="1.23">80</text>
<line x1="246.30" y1="229.44" x2="250.50" y2="229.44" stroke="#555" stroke-width="0.6"/>
<text transform="matrix(0.05320 0 0 0.05585 239.89 231.39)" font-size="100" fill="#222" stroke="#222" stroke-width="1.23">60</text>
<line x1="246.30" y1="243.36" x2="250.50" y2="243.36" stroke="#555" stroke-width="0.6"/>
<text transform="matrix(0.05320 0 0 0.05585 239.89 245.31)" font-size="100" fill="#222" stroke="#222" stroke-width="1.23">40</text>
<line x1="246.30" y1="257.28" x2="250.50" y2="257.28" stroke="#555" stroke-width="0.6"/>
<text transform="matrix(0.05320 0 0 0.05585 239.89 259.23)" font-size="100" fill="#222" stroke="#222" stroke-width="1.23">20</text>
<line x1="246.30" y1="271.20" x2="250.50" y2="271.20" stroke="#555" stroke-width="0.6"/>
<text transform="matrix(0.05320 0 0 0.05585 242.85 273.15)" font-size="100" fill="#222" stroke="#222" stroke-width="1.23">0</text>
<text transform="matrix(0 -0.08298 0.08568 0 238.30 254.20)" font-size="100" fill="#222" stroke="#222" stroke-width="1.22">% of max</text>
<text transform="matrix(0.05648 0 0 0.05299 255.78 280.90)" font-size="100" fill="#222" stroke="#222" stroke-width="1.16">0</text>
<text transform="matrix(0.04814 0 0 0.05299 261.53 280.90)" font-size="100" fill="#222" stroke="#222" stroke-width="1.26">10</text>
<text transform="matrix(0.04610 0 0 0.04153 266.57 278.30)" font-size="100" fill="#222" stroke="#222" stroke-width="1.14">2</text>
<text transform="matrix(0.04814 0 0 0.05299 279.43 280.90)" font-size="100" fill="#222" stroke="#222" stroke-width="1.26">10</text>
<text transform="matrix(0.04429 0 0 0.04153 284.53 278.30)" font-size="100" fill="#222" stroke="#222" stroke-width="1.16">3</text>
<text transform="matrix(0.04814 0 0 0.05299 295.73 280.90)" font-size="100" fill="#222" stroke="#222" stroke-width="1.26">10</text>
<text transform="matrix(0.04167 0 0 0.04215 300.90 278.30)" font-size="100" fill="#222" stroke="#222" stroke-width="1.21">4</text>
<text transform="matrix(0.04814 0 0 0.05299 313.13 280.90)" font-size="100" fill="#222" stroke="#222" stroke-width="1.26">10</text>
<text transform="matrix(0.04429 0 0 0.04215 318.22 278.30)" font-size="100" fill="#222" stroke="#222" stroke-width="1.17">5</text>
<rect x="345.60" y="198.50" width="72.80" height="72.70" fill="#fff" stroke="none" stroke-width="0"/>
<path d="M345.77,271.50 L345.77,236.00 L346.08,232.92 L346.80,230.80 L347.40,222.31 L348.60,216.20 L349.90,212.60 L351.70,207.69 L353.50,204.11 L354.50,202.91 L355.90,206.51 L357.10,205.91 L357.77,206.77 L359.00,211.31 L360.20,213.80 L360.80,221.11 L362.00,227.11 L362.60,232.00 L363.80,240.51 L365.00,249.00 L366.20,258.71 L367.50,266.00 L368.10,269.00 L368.85,271.20 L368.85,271.50" fill="#bdbdbd" stroke="#3a3a3a" stroke-width="0.8" stroke-linejoin="round"/>
<path d="M358.38,271.50 L358.38,271.20 L366.08,271.20 L369.30,268.40 L374.10,266.00 L375.90,258.71 L377.20,246.51 L378.40,228.29 L379.30,207.69 L380.00,203.51 L380.60,207.69 L381.40,234.40 L382.40,252.60 L383.60,263.51 L385.00,268.40 L386.90,270.20 L388.38,271.20 L388.38,271.50" fill="#000" stroke="#000" stroke-width="0.4" stroke-linejoin="round"/>
<line x1="345.60" y1="198.50" x2="418.40" y2="198.50" stroke="#8a8a8a" stroke-width="0.8"/>
<line x1="418.40" y1="198.50" x2="418.40" y2="271.20" stroke="#9a9a9a" stroke-width="0.9"/>
<line x1="345.60" y1="198.20" x2="345.60" y2="271.70" stroke="#333" stroke-width="1.2"/>
<line x1="345.00" y1="271.20" x2="418.80" y2="271.20" stroke="#222" stroke-width="1.4"/>
<line x1="345.60" y1="272.60" x2="418.40" y2="272.60" stroke="#555" stroke-width="1.3" stroke-dasharray="0.9 1.3"/>
<line x1="344.50" y1="199.50" x2="344.50" y2="271.20" stroke="#888" stroke-width="1.1" stroke-dasharray="0.8 1.5"/>
<line x1="341.40" y1="201.60" x2="345.60" y2="201.60" stroke="#555" stroke-width="0.6"/>
<text transform="matrix(0.05320 0 0 0.05585 332.03 203.55)" font-size="100" fill="#222" stroke="#222" stroke-width="1.23">100</text>
<line x1="341.40" y1="215.52" x2="345.60" y2="215.52" stroke="#555" stroke-width="0.6"/>
<text transform="matrix(0.05320 0 0 0.05585 334.99 217.47)" font-size="100" fill="#222" stroke="#222" stroke-width="1.23">80</text>
<line x1="341.40" y1="229.44" x2="345.60" y2="229.44" stroke="#555" stroke-width="0.6"/>
<text transform="matrix(0.05320 0 0 0.05585 334.99 231.39)" font-size="100" fill="#222" stroke="#222" stroke-width="1.23">60</text>
<line x1="341.40" y1="243.36" x2="345.60" y2="243.36" stroke="#555" stroke-width="0.6"/>
<text transform="matrix(0.05320 0 0 0.05585 334.99 245.31)" font-size="100" fill="#222" stroke="#222" stroke-width="1.23">40</text>
<line x1="341.40" y1="257.28" x2="345.60" y2="257.28" stroke="#555" stroke-width="0.6"/>
<text transform="matrix(0.05320 0 0 0.05585 334.99 259.23)" font-size="100" fill="#222" stroke="#222" stroke-width="1.23">20</text>
<line x1="341.40" y1="271.20" x2="345.60" y2="271.20" stroke="#555" stroke-width="0.6"/>
<text transform="matrix(0.05320 0 0 0.05585 337.95 273.15)" font-size="100" fill="#222" stroke="#222" stroke-width="1.23">0</text>
<text transform="matrix(0 -0.08298 0.08568 0 333.40 254.20)" font-size="100" fill="#222" stroke="#222" stroke-width="1.22">% of max</text>
<text transform="matrix(0.05648 0 0 0.05299 350.88 280.90)" font-size="100" fill="#222" stroke="#222" stroke-width="1.16">0</text>
<text transform="matrix(0.04814 0 0 0.05299 356.63 280.90)" font-size="100" fill="#222" stroke="#222" stroke-width="1.26">10</text>
<text transform="matrix(0.04610 0 0 0.04153 361.67 278.30)" font-size="100" fill="#222" stroke="#222" stroke-width="1.14">2</text>
<text transform="matrix(0.04814 0 0 0.05299 374.53 280.90)" font-size="100" fill="#222" stroke="#222" stroke-width="1.26">10</text>
<text transform="matrix(0.04429 0 0 0.04153 379.63 278.30)" font-size="100" fill="#222" stroke="#222" stroke-width="1.16">3</text>
<text transform="matrix(0.04814 0 0 0.05299 390.83 280.90)" font-size="100" fill="#222" stroke="#222" stroke-width="1.26">10</text>
<text transform="matrix(0.04167 0 0 0.04215 396.00 278.30)" font-size="100" fill="#222" stroke="#222" stroke-width="1.21">4</text>
<text transform="matrix(0.04814 0 0 0.05299 408.23 280.90)" font-size="100" fill="#222" stroke="#222" stroke-width="1.26">10</text>
<text transform="matrix(0.04429 0 0 0.04215 413.32 278.30)" font-size="100" fill="#222" stroke="#222" stroke-width="1.17">5</text>
<rect x="442.00" y="198.50" width="71.80" height="72.70" fill="#fff" stroke="none" stroke-width="0"/>
<path d="M442.40,271.50 L442.40,243.69 L444.11,247.20 L445.91,246.00 L447.11,241.31 L449.40,239.00 L451.80,234.20 L454.20,229.51 L455.91,223.60 L457.11,218.91 L458.31,213.00 L460.11,207.11 L461.31,203.51 L462.00,203.69 L463.00,205.91 L464.20,214.20 L465.40,226.00 L466.60,241.31 L467.69,255.51 L468.91,268.51 L469.50,271.20 L469.50,271.50" fill="#000" stroke="#000" stroke-width="0.4" stroke-linejoin="round"/>
<line x1="442.00" y1="198.50" x2="513.80" y2="198.50" stroke="#8a8a8a" stroke-width="0.8"/>
<line x1="513.80" y1="198.50" x2="513.80" y2="271.20" stroke="#9a9a9a" stroke-width="0.9"/>
<line x1="442.00" y1="198.20" x2="442.00" y2="271.70" stroke="#333" stroke-width="1.2"/>
<line x1="441.40" y1="271.20" x2="514.20" y2="271.20" stroke="#222" stroke-width="1.4"/>
<line x1="442.00" y1="272.60" x2="513.80" y2="272.60" stroke="#555" stroke-width="1.3" stroke-dasharray="0.9 1.3"/>
<line x1="440.90" y1="199.50" x2="440.90" y2="271.20" stroke="#888" stroke-width="1.1" stroke-dasharray="0.8 1.5"/>
<line x1="437.80" y1="201.60" x2="442.00" y2="201.60" stroke="#555" stroke-width="0.6"/>
<text transform="matrix(0.05320 0 0 0.05585 428.43 203.55)" font-size="100" fill="#222" stroke="#222" stroke-width="1.23">100</text>
<line x1="437.80" y1="215.52" x2="442.00" y2="215.52" stroke="#555" stroke-width="0.6"/>
<text transform="matrix(0.05320 0 0 0.05585 431.39 217.47)" font-size="100" fill="#222" stroke="#222" stroke-width="1.23">80</text>
<line x1="437.80" y1="229.44" x2="442.00" y2="229.44" stroke="#555" stroke-width="0.6"/>
<text transform="matrix(0.05320 0 0 0.05585 431.39 231.39)" font-size="100" fill="#222" stroke="#222" stroke-width="1.23">60</text>
<line x1="437.80" y1="243.36" x2="442.00" y2="243.36" stroke="#555" stroke-width="0.6"/>
<text transform="matrix(0.05320 0 0 0.05585 431.39 245.31)" font-size="100" fill="#222" stroke="#222" stroke-width="1.23">40</text>
<line x1="437.80" y1="257.28" x2="442.00" y2="257.28" stroke="#555" stroke-width="0.6"/>
<text transform="matrix(0.05320 0 0 0.05585 431.39 259.23)" font-size="100" fill="#222" stroke="#222" stroke-width="1.23">20</text>
<line x1="437.80" y1="271.20" x2="442.00" y2="271.20" stroke="#555" stroke-width="0.6"/>
<text transform="matrix(0.05320 0 0 0.05585 434.35 273.15)" font-size="100" fill="#222" stroke="#222" stroke-width="1.23">0</text>
<text transform="matrix(0 -0.08298 0.08568 0 429.80 254.20)" font-size="100" fill="#222" stroke="#222" stroke-width="1.22">% of max</text>
<text transform="matrix(0.05648 0 0 0.05299 447.28 280.90)" font-size="100" fill="#222" stroke="#222" stroke-width="1.16">0</text>
<text transform="matrix(0.04814 0 0 0.05299 453.03 280.90)" font-size="100" fill="#222" stroke="#222" stroke-width="1.26">10</text>
<text transform="matrix(0.04610 0 0 0.04153 458.07 278.30)" font-size="100" fill="#222" stroke="#222" stroke-width="1.14">2</text>
<text transform="matrix(0.04814 0 0 0.05299 470.93 280.90)" font-size="100" fill="#222" stroke="#222" stroke-width="1.26">10</text>
<text transform="matrix(0.04429 0 0 0.04153 476.03 278.30)" font-size="100" fill="#222" stroke="#222" stroke-width="1.16">3</text>
<text transform="matrix(0.04814 0 0 0.05299 487.23 280.90)" font-size="100" fill="#222" stroke="#222" stroke-width="1.26">10</text>
<text transform="matrix(0.04167 0 0 0.04215 492.40 278.30)" font-size="100" fill="#222" stroke="#222" stroke-width="1.21">4</text>
<text transform="matrix(0.04814 0 0 0.05299 504.63 280.90)" font-size="100" fill="#222" stroke="#222" stroke-width="1.26">10</text>
<text transform="matrix(0.04429 0 0 0.04215 509.72 278.30)" font-size="100" fill="#222" stroke="#222" stroke-width="1.17">5</text>
<rect x="250.50" y="287.30" width="72.80" height="72.50" fill="#fff" stroke="none" stroke-width="0"/>
<path d="M267.69,360.10 L267.69,359.80 L267.69,291.92 L268.35,291.62 L270.12,295.00 L271.27,305.00 L272.42,318.00 L273.42,330.00 L274.22,342.00 L275.22,351.00 L276.42,356.00 L277.42,358.50 L278.46,359.80 L278.46,360.10" fill="#e8e8e8" stroke="#8a8a8a" stroke-width="0.8" stroke-linejoin="round"/>
<path d="M250.50,360.10 L250.50,331.92 L251.20,331.60 L253.60,329.80 L255.51,326.80 L257.31,320.69 L259.11,317.11 L260.89,314.69 L262.11,309.80 L262.69,300.11 L263.89,299.49 L265.20,292.80 L266.40,296.51 L267.60,291.60 L268.80,292.80 L269.40,300.11 L270.00,307.40 L270.60,318.31 L271.60,330.40 L272.40,342.51 L273.60,352.20 L275.51,357.69 L277.23,359.80 L278.77,359.80 L278.77,360.10" fill="#000" stroke="#000" stroke-width="0.4" stroke-linejoin="round"/>
<line x1="250.50" y1="287.30" x2="323.30" y2="287.30" stroke="#8a8a8a" stroke-width="0.8"/>
<line x1="323.30" y1="287.30" x2="323.30" y2="359.80" stroke="#9a9a9a" stroke-width="0.9"/>
<line x1="250.50" y1="287.00" x2="250.50" y2="360.30" stroke="#333" stroke-width="1.2"/>
<line x1="249.90" y1="359.80" x2="323.70" y2="359.80" stroke="#222" stroke-width="1.4"/>
<line x1="250.50" y1="361.20" x2="323.30" y2="361.20" stroke="#555" stroke-width="1.3" stroke-dasharray="0.9 1.3"/>
<line x1="249.40" y1="288.30" x2="249.40" y2="359.80" stroke="#888" stroke-width="1.1" stroke-dasharray="0.8 1.5"/>
<line x1="246.30" y1="290.20" x2="250.50" y2="290.20" stroke="#555" stroke-width="0.6"/>
<text transform="matrix(0.05320 0 0 0.05585 236.93 292.15)" font-size="100" fill="#222" stroke="#222" stroke-width="1.23">100</text>
<line x1="246.30" y1="304.12" x2="250.50" y2="304.12" stroke="#555" stroke-width="0.6"/>
<text transform="matrix(0.05320 0 0 0.05585 239.89 306.07)" font-size="100" fill="#222" stroke="#222" stroke-width="1.23">80</text>
<line x1="246.30" y1="318.04" x2="250.50" y2="318.04" stroke="#555" stroke-width="0.6"/>
<text transform="matrix(0.05320 0 0 0.05585 239.89 319.99)" font-size="100" fill="#222" stroke="#222" stroke-width="1.23">60</text>
<line x1="246.30" y1="331.96" x2="250.50" y2="331.96" stroke="#555" stroke-width="0.6"/>
<text transform="matrix(0.05320 0 0 0.05585 239.89 333.91)" font-size="100" fill="#222" stroke="#222" stroke-width="1.23">40</text>
<line x1="246.30" y1="345.88" x2="250.50" y2="345.88" stroke="#555" stroke-width="0.6"/>
<text transform="matrix(0.05320 0 0 0.05585 239.89 347.83)" font-size="100" fill="#222" stroke="#222" stroke-width="1.23">20</text>
<line x1="246.30" y1="359.80" x2="250.50" y2="359.80" stroke="#555" stroke-width="0.6"/>
<text transform="matrix(0.05320 0 0 0.05585 242.85 361.75)" font-size="100" fill="#222" stroke="#222" stroke-width="1.23">0</text>
<text transform="matrix(0 -0.08274 0.08568 0 238.30 342.19)" font-size="100" fill="#222" stroke="#222" stroke-width="1.22">% of max</text>
<text transform="matrix(0.05648 0 0 0.05299 253.18 369.50)" font-size="100" fill="#222" stroke="#222" stroke-width="1.16">0</text>
<text transform="matrix(0.04814 0 0 0.05299 258.93 369.50)" font-size="100" fill="#222" stroke="#222" stroke-width="1.26">10</text>
<text transform="matrix(0.04610 0 0 0.04153 263.97 366.90)" font-size="100" fill="#222" stroke="#222" stroke-width="1.14">2</text>
<text transform="matrix(0.04814 0 0 0.05299 276.83 369.50)" font-size="100" fill="#222" stroke="#222" stroke-width="1.26">10</text>
<text transform="matrix(0.04429 0 0 0.04153 281.93 366.90)" font-size="100" fill="#222" stroke="#222" stroke-width="1.16">3</text>
<text transform="matrix(0.04814 0 0 0.05299 293.13 369.50)" font-size="100" fill="#222" stroke="#222" stroke-width="1.26">10</text>
<text transform="matrix(0.04167 0 0 0.04215 298.30 366.90)" font-size="100" fill="#222" stroke="#222" stroke-width="1.21">4</text>
<text transform="matrix(0.04814 0 0 0.05299 310.53 369.50)" font-size="100" fill="#222" stroke="#222" stroke-width="1.26">10</text>
<text transform="matrix(0.04429 0 0 0.04215 315.62 366.90)" font-size="100" fill="#222" stroke="#222" stroke-width="1.17">5</text>
<rect x="345.60" y="287.30" width="72.80" height="72.50" fill="#fff" stroke="none" stroke-width="0"/>
<path d="M345.77,360.10 L345.77,312.69 L346.38,310.54 L347.40,309.80 L348.40,311.00 L349.20,313.51 L350.10,317.11 L350.80,320.69 L351.46,322.69 L351.92,359.80 L351.92,360.10" fill="#bdbdbd" stroke="#3a3a3a" stroke-width="0.8" stroke-linejoin="round"/>
<path d="M345.77,360.10 L345.77,323.46 L346.50,323.20 L347.40,321.91 L348.60,323.20 L349.80,321.91 L351.10,320.69 L351.70,315.91 L352.30,312.20 L352.90,311.00 L353.50,315.91 L354.10,318.31 L354.70,308.60 L355.30,305.00 L355.90,306.20 L356.50,302.51 L357.10,300.11 L357.70,303.80 L358.30,295.31 L358.90,292.80 L359.50,295.31 L360.20,300.11 L360.80,302.51 L361.40,303.80 L362.00,302.51 L363.20,303.80 L363.80,309.80 L365.00,318.31 L366.20,325.60 L366.80,334.11 L367.40,341.31 L368.60,348.60 L369.80,354.69 L371.10,358.31 L372.30,359.80 L372.30,360.10" fill="#000" stroke="#000" stroke-width="0.4" stroke-linejoin="round"/>
<line x1="345.60" y1="287.30" x2="418.40" y2="287.30" stroke="#8a8a8a" stroke-width="0.8"/>
<line x1="418.40" y1="287.30" x2="418.40" y2="359.80" stroke="#9a9a9a" stroke-width="0.9"/>
<line x1="345.60" y1="287.00" x2="345.60" y2="360.30" stroke="#333" stroke-width="1.2"/>
<line x1="345.00" y1="359.80" x2="418.80" y2="359.80" stroke="#222" stroke-width="1.4"/>
<line x1="345.60" y1="361.20" x2="418.40" y2="361.20" stroke="#555" stroke-width="1.3" stroke-dasharray="0.9 1.3"/>
<line x1="344.50" y1="288.30" x2="344.50" y2="359.80" stroke="#888" stroke-width="1.1" stroke-dasharray="0.8 1.5"/>
<line x1="341.40" y1="290.20" x2="345.60" y2="290.20" stroke="#555" stroke-width="0.6"/>
<text transform="matrix(0.05320 0 0 0.05585 332.03 292.15)" font-size="100" fill="#222" stroke="#222" stroke-width="1.23">100</text>
<line x1="341.40" y1="304.12" x2="345.60" y2="304.12" stroke="#555" stroke-width="0.6"/>
<text transform="matrix(0.05320 0 0 0.05585 334.99 306.07)" font-size="100" fill="#222" stroke="#222" stroke-width="1.23">80</text>
<line x1="341.40" y1="318.04" x2="345.60" y2="318.04" stroke="#555" stroke-width="0.6"/>
<text transform="matrix(0.05320 0 0 0.05585 334.99 319.99)" font-size="100" fill="#222" stroke="#222" stroke-width="1.23">60</text>
<line x1="341.40" y1="331.96" x2="345.60" y2="331.96" stroke="#555" stroke-width="0.6"/>
<text transform="matrix(0.05320 0 0 0.05585 334.99 333.91)" font-size="100" fill="#222" stroke="#222" stroke-width="1.23">40</text>
<line x1="341.40" y1="345.88" x2="345.60" y2="345.88" stroke="#555" stroke-width="0.6"/>
<text transform="matrix(0.05320 0 0 0.05585 334.99 347.83)" font-size="100" fill="#222" stroke="#222" stroke-width="1.23">20</text>
<line x1="341.40" y1="359.80" x2="345.60" y2="359.80" stroke="#555" stroke-width="0.6"/>
<text transform="matrix(0.05320 0 0 0.05585 337.95 361.75)" font-size="100" fill="#222" stroke="#222" stroke-width="1.23">0</text>
<text transform="matrix(0 -0.08274 0.08568 0 333.40 342.19)" font-size="100" fill="#222" stroke="#222" stroke-width="1.22">% of max</text>
<text transform="matrix(0.05648 0 0 0.05299 350.88 369.50)" font-size="100" fill="#222" stroke="#222" stroke-width="1.16">0</text>
<text transform="matrix(0.04814 0 0 0.05299 356.63 369.50)" font-size="100" fill="#222" stroke="#222" stroke-width="1.26">10</text>
<text transform="matrix(0.04610 0 0 0.04153 361.67 366.90)" font-size="100" fill="#222" stroke="#222" stroke-width="1.14">2</text>
<text transform="matrix(0.04814 0 0 0.05299 374.53 369.50)" font-size="100" fill="#222" stroke="#222" stroke-width="1.26">10</text>
<text transform="matrix(0.04429 0 0 0.04153 379.63 366.90)" font-size="100" fill="#222" stroke="#222" stroke-width="1.16">3</text>
<text transform="matrix(0.04814 0 0 0.05299 390.83 369.50)" font-size="100" fill="#222" stroke="#222" stroke-width="1.26">10</text>
<text transform="matrix(0.04167 0 0 0.04215 396.00 366.90)" font-size="100" fill="#222" stroke="#222" stroke-width="1.21">4</text>
<text transform="matrix(0.04814 0 0 0.05299 408.23 369.50)" font-size="100" fill="#222" stroke="#222" stroke-width="1.26">10</text>
<text transform="matrix(0.04429 0 0 0.04215 413.32 366.90)" font-size="100" fill="#222" stroke="#222" stroke-width="1.17">5</text>
<rect x="442.00" y="287.30" width="71.80" height="72.50" fill="#fff" stroke="none" stroke-width="0"/>
<path d="M442.31,360.10 L442.31,322.23 L442.40,322.00 L443.60,323.20 L444.31,324.40 L445.51,328.00 L446.69,326.80 L447.89,330.40 L449.11,328.00 L450.31,330.40 L451.51,326.80 L452.11,321.89 L453.31,318.31 L454.49,321.89 L455.51,317.11 L456.40,307.40 L457.00,301.31 L457.89,298.89 L458.80,296.51 L460.00,291.60 L460.80,292.80 L461.60,298.89 L462.40,296.51 L463.00,301.31 L464.20,303.80 L464.80,308.60 L465.51,312.20 L466.11,324.40 L466.69,336.51 L467.60,348.60 L468.49,355.89 L469.31,358.89 L469.85,359.80 L469.85,360.10" fill="#000" stroke="#000" stroke-width="0.4" stroke-linejoin="round"/>
<line x1="442.00" y1="287.30" x2="513.80" y2="287.30" stroke="#8a8a8a" stroke-width="0.8"/>
<line x1="513.80" y1="287.30" x2="513.80" y2="359.80" stroke="#9a9a9a" stroke-width="0.9"/>
<line x1="442.00" y1="287.00" x2="442.00" y2="360.30" stroke="#333" stroke-width="1.2"/>
<line x1="441.40" y1="359.80" x2="514.20" y2="359.80" stroke="#222" stroke-width="1.4"/>
<line x1="442.00" y1="361.20" x2="513.80" y2="361.20" stroke="#555" stroke-width="1.3" stroke-dasharray="0.9 1.3"/>
<line x1="440.90" y1="288.30" x2="440.90" y2="359.80" stroke="#888" stroke-width="1.1" stroke-dasharray="0.8 1.5"/>
<line x1="437.80" y1="290.20" x2="442.00" y2="290.20" stroke="#555" stroke-width="0.6"/>
<text transform="matrix(0.05320 0 0 0.05585 428.43 292.15)" font-size="100" fill="#222" stroke="#222" stroke-width="1.23">100</text>
<line x1="437.80" y1="304.12" x2="442.00" y2="304.12" stroke="#555" stroke-width="0.6"/>
<text transform="matrix(0.05320 0 0 0.05585 431.39 306.07)" font-size="100" fill="#222" stroke="#222" stroke-width="1.23">80</text>
<line x1="437.80" y1="318.04" x2="442.00" y2="318.04" stroke="#555" stroke-width="0.6"/>
<text transform="matrix(0.05320 0 0 0.05585 431.39 319.99)" font-size="100" fill="#222" stroke="#222" stroke-width="1.23">60</text>
<line x1="437.80" y1="331.96" x2="442.00" y2="331.96" stroke="#555" stroke-width="0.6"/>
<text transform="matrix(0.05320 0 0 0.05585 431.39 333.91)" font-size="100" fill="#222" stroke="#222" stroke-width="1.23">40</text>
<line x1="437.80" y1="345.88" x2="442.00" y2="345.88" stroke="#555" stroke-width="0.6"/>
<text transform="matrix(0.05320 0 0 0.05585 431.39 347.83)" font-size="100" fill="#222" stroke="#222" stroke-width="1.23">20</text>
<line x1="437.80" y1="359.80" x2="442.00" y2="359.80" stroke="#555" stroke-width="0.6"/>
<text transform="matrix(0.05320 0 0 0.05585 434.35 361.75)" font-size="100" fill="#222" stroke="#222" stroke-width="1.23">0</text>
<text transform="matrix(0 -0.08274 0.08568 0 429.80 342.19)" font-size="100" fill="#222" stroke="#222" stroke-width="1.22">% of max</text>
<text transform="matrix(0.05648 0 0 0.05299 447.28 369.50)" font-size="100" fill="#222" stroke="#222" stroke-width="1.16">0</text>
<text transform="matrix(0.04814 0 0 0.05299 453.03 369.50)" font-size="100" fill="#222" stroke="#222" stroke-width="1.26">10</text>
<text transform="matrix(0.04610 0 0 0.04153 458.07 366.90)" font-size="100" fill="#222" stroke="#222" stroke-width="1.14">2</text>
<text transform="matrix(0.04814 0 0 0.05299 470.93 369.50)" font-size="100" fill="#222" stroke="#222" stroke-width="1.26">10</text>
<text transform="matrix(0.04429 0 0 0.04153 476.03 366.90)" font-size="100" fill="#222" stroke="#222" stroke-width="1.16">3</text>
<text transform="matrix(0.04814 0 0 0.05299 487.23 369.50)" font-size="100" fill="#222" stroke="#222" stroke-width="1.26">10</text>
<text transform="matrix(0.04167 0 0 0.04215 492.40 366.90)" font-size="100" fill="#222" stroke="#222" stroke-width="1.21">4</text>
<text transform="matrix(0.04814 0 0 0.05299 504.63 369.50)" font-size="100" fill="#222" stroke="#222" stroke-width="1.26">10</text>
<text transform="matrix(0.04429 0 0 0.04215 509.72 366.90)" font-size="100" fill="#222" stroke="#222" stroke-width="1.17">5</text>
<rect x="40.90" y="432.80" width="111.90" height="111.00" fill="#fff" stroke="none" stroke-width="0"/>
<path d="M42.30,543.10 L43.80,541.90 L47.30,538.10 L49.20,534.20 L50.40,528.10 L51.50,520.40 L52.70,512.70 L53.50,509.20 L54.20,501.80 L54.90,494.50 L55.70,492.30 L57.20,487.10 L57.90,479.70 L59.00,472.40 L59.40,469.30 L60.00,463.10 L60.60,456.90 L61.20,450.70 L61.80,444.40 L62.30,439.20 L62.80,441.30 L63.10,447.60 L63.70,450.70 L64.20,458.00 L65.20,466.00 L66.50,472.40 L67.10,479.70 L67.80,484.90 L68.20,487.10 L68.60,494.50 L69.30,501.80 L69.70,509.20 L70.40,512.70 L71.20,520.40 L71.90,528.10 L72.70,534.20 L73.80,538.80 L75.40,541.90 L76.90,543.10 L42.30,543.60" fill="#ababab" stroke="#111" stroke-width="1.0" stroke-linejoin="round"/>
<path d="M47.50,543.20 L50.00,541.50 L52.30,538.80 L54.20,535.00 L55.80,530.40 L56.90,525.80 L58.10,519.60 L58.80,512.70 L59.40,507.70 L60.50,501.80 L61.20,496.00 L62.00,490.80 L62.70,485.60 L63.40,479.70 L64.60,473.80 L65.10,468.10 L65.00,463.10 L64.70,456.90 L64.50,450.50 L65.50,447.80 L67.00,446.20 L68.50,444.60 L69.50,442.60 L69.90,440.00 L70.50,441.80 L71.20,444.40 L71.80,447.60 L72.40,450.70 L72.70,455.00 L73.00,460.00 L73.50,465.00 L74.40,472.40 L74.90,479.70 L76.00,487.10 L76.80,494.50 L77.50,500.40 L78.60,507.70 L79.30,511.60 L80.00,514.80 L81.30,518.10 L81.90,521.40 L82.90,526.00 L83.90,529.30 L86.50,528.00 L87.80,531.20 L89.50,533.90 L90.80,537.10 L92.10,539.10 L94.10,540.40 L96.00,541.70 L97.00,542.70 L98.50,543.30" fill="none" stroke="#111" stroke-width="1.35" stroke-linejoin="round" stroke-dasharray="1.3 1.7" stroke-linecap="butt"/>
<path d="M51.50,543.30 L53.10,542.70 L55.40,541.20 L57.70,538.80 L59.60,534.20 L61.20,528.10 L62.70,520.40 L63.80,512.70 L64.50,509.20 L65.30,503.30 L66.40,498.20 L67.50,494.50 L68.20,489.30 L68.90,485.60 L69.70,479.70 L70.40,472.40 L71.20,466.00 L71.80,461.90 L72.40,458.80 L73.00,456.90 L73.70,450.70 L74.30,444.40 L74.90,439.20 L75.50,444.40 L76.20,448.80 L77.40,449.40 L78.00,453.80 L78.30,460.00 L78.60,465.00 L79.00,472.40 L80.50,477.50 L81.20,483.40 L81.90,489.30 L82.70,495.20 L84.20,491.50 L84.90,495.20 L86.00,499.60 L87.20,505.00 L87.80,508.90 L89.50,512.20 L90.80,516.10 L92.10,520.70 L93.40,526.00 L95.40,526.60 L96.40,529.90 L97.30,533.20 L99.00,537.10 L101.00,539.40 L103.20,541.10 L104.90,542.40 L106.20,543.20" fill="none" stroke="#000" stroke-width="1.45" stroke-linejoin="round"/>
<line x1="40.90" y1="432.80" x2="152.80" y2="432.80" stroke="#555" stroke-width="1.4"/>
<line x1="152.80" y1="432.80" x2="152.80" y2="543.80" stroke="#555" stroke-width="1.2"/>
<line x1="40.90" y1="432.40" x2="40.90" y2="544.40" stroke="#222" stroke-width="1.3"/>
<line x1="40.30" y1="543.80" x2="153.30" y2="543.80" stroke="#111" stroke-width="1.6"/>
<line x1="40.90" y1="545.80" x2="152.80" y2="545.80" stroke="#555" stroke-width="1.8" stroke-dasharray="0.9 1.4"/>
<line x1="39.60" y1="433.80" x2="39.60" y2="543.80" stroke="#888" stroke-width="1.4" stroke-dasharray="0.9 2.2"/>
<line x1="37.40" y1="438.10" x2="40.90" y2="438.10" stroke="#333" stroke-width="0.9"/>
<text transform="matrix(0.08051 0 0 0.08307 17.38 441.00)" font-size="100" fill="#111" stroke="#111" stroke-width="1.22">100</text>
<line x1="37.40" y1="458.85" x2="40.90" y2="458.85" stroke="#333" stroke-width="0.9"/>
<text transform="matrix(0.08051 0 0 0.08307 21.86 461.75)" font-size="100" fill="#111" stroke="#111" stroke-width="1.22">80</text>
<line x1="37.40" y1="479.60" x2="40.90" y2="479.60" stroke="#333" stroke-width="0.9"/>
<text transform="matrix(0.08051 0 0 0.08307 21.86 482.50)" font-size="100" fill="#111" stroke="#111" stroke-width="1.22">60</text>
<line x1="37.40" y1="500.35" x2="40.90" y2="500.35" stroke="#333" stroke-width="0.9"/>
<text transform="matrix(0.08051 0 0 0.08307 21.86 503.25)" font-size="100" fill="#111" stroke="#111" stroke-width="1.22">40</text>
<line x1="37.40" y1="521.10" x2="40.90" y2="521.10" stroke="#333" stroke-width="0.9"/>
<text transform="matrix(0.08051 0 0 0.08307 21.86 524.00)" font-size="100" fill="#111" stroke="#111" stroke-width="1.22">20</text>
<line x1="37.40" y1="541.85" x2="40.90" y2="541.85" stroke="#333" stroke-width="0.9"/>
<text transform="matrix(0.08051 0 0 0.08307 26.34 544.75)" font-size="100" fill="#111" stroke="#111" stroke-width="1.22">0</text>
<text transform="matrix(0 -0.09681 0.09950 0 13.30 510.05)" font-size="100" fill="#111" stroke="#111" stroke-width="1.22">% of max</text>
<line x1="52.10" y1="543.80" x2="52.10" y2="546.00" stroke="#222" stroke-width="0.9"/>
<line x1="64.80" y1="543.80" x2="64.80" y2="546.00" stroke="#222" stroke-width="0.9"/>
<line x1="91.30" y1="543.80" x2="91.30" y2="546.00" stroke="#222" stroke-width="0.9"/>
<line x1="117.30" y1="543.80" x2="117.30" y2="546.00" stroke="#222" stroke-width="0.9"/>
<line x1="142.70" y1="543.80" x2="142.70" y2="546.00" stroke="#222" stroke-width="0.9"/>
<text transform="matrix(0.08995 0 0 0.08307 49.15 558.70)" font-size="100" fill="#111" stroke="#111" stroke-width="1.15">0</text>
<text transform="matrix(0.09327 0 0 0.08307 58.29 558.70)" font-size="100" fill="#111" stroke="#111" stroke-width="1.13">10</text>
<text transform="matrix(0.05927 0 0 0.06015 68.20 554.80)" font-size="100" fill="#111" stroke="#111" stroke-width="1.21">2</text>
<text transform="matrix(0.08726 0 0 0.08307 86.04 558.70)" font-size="100" fill="#111" stroke="#111" stroke-width="1.17">10</text>
<text transform="matrix(0.05695 0 0 0.06015 95.38 554.80)" font-size="100" fill="#111" stroke="#111" stroke-width="1.23">3</text>
<text transform="matrix(0.08726 0 0 0.08307 110.84 558.70)" font-size="100" fill="#111" stroke="#111" stroke-width="1.17">10</text>
<text transform="matrix(0.05358 0 0 0.06105 120.28 554.80)" font-size="100" fill="#111" stroke="#111" stroke-width="1.28">4</text>
<text transform="matrix(0.08726 0 0 0.08307 136.84 558.70)" font-size="100" fill="#111" stroke="#111" stroke-width="1.17">10</text>
<text transform="matrix(0.05695 0 0 0.06105 146.17 554.80)" font-size="100" fill="#111" stroke="#111" stroke-width="1.24">5</text>
<line x1="37.50" y1="569.25" x2="143.50" y2="569.25" stroke="#111" stroke-width="1.2"/>
<path d="M142.30,565.50 L152.50,569.25 L142.30,573.00" fill="#111" stroke="none" stroke-width="0" stroke-linejoin="round"/>
<text transform="matrix(0.11680 0 0 0.11457 76.04 586.80)" font-size="100" fill="#111" stroke="#111" stroke-width="1.19">NKp30</text>
<text transform="matrix(0.09753 0 0 0.11730 317.70 396.50)" font-size="100" fill="#111" stroke="#111" stroke-width="1.32">IL-2 production by reporter cells</text>
<text transform="matrix(0.09987 0 0 0.11454 339.08 406.60)" font-size="100" fill="#111" stroke="#111" stroke-width="1.29">(CTLL2 viability, a.U)</text>
<line x1="302.10" y1="429.30" x2="460.90" y2="429.30" stroke="#222" stroke-width="1.1"/>
<line x1="302.10" y1="425.30" x2="302.10" y2="429.30" stroke="#222" stroke-width="1.0"/>
<text transform="matrix(0.07872 0 0 0.08450 299.91 420.70)" font-size="100" fill="#111" stroke="#111" stroke-width="1.24">0</text>
<line x1="328.57" y1="425.30" x2="328.57" y2="429.30" stroke="#222" stroke-width="1.0"/>
<text transform="matrix(0.07872 0 0 0.08450 319.87 420.70)" font-size="100" fill="#111" stroke="#111" stroke-width="1.24">4000</text>
<line x1="355.03" y1="425.30" x2="355.03" y2="429.30" stroke="#222" stroke-width="1.0"/>
<text transform="matrix(0.07872 0 0 0.08450 346.26 420.70)" font-size="100" fill="#111" stroke="#111" stroke-width="1.24">8000</text>
<line x1="381.50" y1="425.30" x2="381.50" y2="429.30" stroke="#222" stroke-width="1.0"/>
<text transform="matrix(0.07872 0 0 0.08450 370.41 420.70)" font-size="100" fill="#111" stroke="#111" stroke-width="1.24">12000</text>
<line x1="407.97" y1="425.30" x2="407.97" y2="429.30" stroke="#222" stroke-width="1.0"/>
<text transform="matrix(0.07872 0 0 0.08450 396.88 420.70)" font-size="100" fill="#111" stroke="#111" stroke-width="1.24">16000</text>
<line x1="434.43" y1="425.30" x2="434.43" y2="429.30" stroke="#222" stroke-width="1.0"/>
<text transform="matrix(0.07872 0 0 0.08450 423.44 420.70)" font-size="100" fill="#111" stroke="#111" stroke-width="1.24">20000</text>
<line x1="460.90" y1="425.30" x2="460.90" y2="429.30" stroke="#222" stroke-width="1.0"/>
<text transform="matrix(0.07872 0 0 0.08450 449.91 420.70)" font-size="100" fill="#111" stroke="#111" stroke-width="1.24">24000</text>
<line x1="302.10" y1="429.30" x2="302.10" y2="608.00" stroke="#222" stroke-width="1.1"/>
<rect x="302.10" y="433.80" width="51.30" height="5.30" fill="#000" stroke="none" stroke-width="0"/>
<line x1="353.40" y1="436.45" x2="358.70" y2="436.45" stroke="#111" stroke-width="0.9"/>
<line x1="358.70" y1="434.85" x2="358.70" y2="438.05" stroke="#111" stroke-width="0.9"/>
<rect x="302.10" y="442.50" width="44.00" height="4.30" fill="#fff" stroke="#111" stroke-width="1.0"/>
<line x1="346.60" y1="444.65" x2="348.30" y2="444.65" stroke="#111" stroke-width="0.9"/>
<line x1="348.30" y1="443.05" x2="348.30" y2="446.25" stroke="#111" stroke-width="0.9"/>
<line x1="297.20" y1="440.40" x2="302.10" y2="440.40" stroke="#222" stroke-width="1.0"/>
<rect x="302.10" y="456.40" width="35.50" height="5.30" fill="#000" stroke="none" stroke-width="0"/>
<line x1="337.60" y1="459.05" x2="355.20" y2="459.05" stroke="#111" stroke-width="0.9"/>
<line x1="355.20" y1="457.45" x2="355.20" y2="460.65" stroke="#111" stroke-width="0.9"/>
<rect x="302.10" y="465.10" width="24.40" height="4.30" fill="#fff" stroke="#111" stroke-width="1.0"/>
<line x1="327.00" y1="467.25" x2="340.10" y2="467.25" stroke="#111" stroke-width="0.9"/>
<line x1="340.10" y1="465.65" x2="340.10" y2="468.85" stroke="#111" stroke-width="0.9"/>
<line x1="297.20" y1="463.20" x2="302.10" y2="463.20" stroke="#222" stroke-width="1.0"/>
<rect x="302.10" y="478.70" width="61.90" height="5.30" fill="#000" stroke="none" stroke-width="0"/>
<line x1="364.00" y1="481.35" x2="377.80" y2="481.35" stroke="#111" stroke-width="0.9"/>
<line x1="377.80" y1="479.75" x2="377.80" y2="482.95" stroke="#111" stroke-width="0.9"/>
<rect x="302.10" y="487.70" width="45.60" height="4.30" fill="#fff" stroke="#111" stroke-width="1.0"/>
<line x1="348.20" y1="489.85" x2="355.60" y2="489.85" stroke="#111" stroke-width="0.9"/>
<line x1="355.60" y1="488.25" x2="355.60" y2="491.45" stroke="#111" stroke-width="0.9"/>
<line x1="297.20" y1="485.60" x2="302.10" y2="485.60" stroke="#222" stroke-width="1.0"/>
<rect x="302.10" y="501.20" width="55.20" height="5.30" fill="#000" stroke="none" stroke-width="0"/>
<line x1="357.30" y1="503.85" x2="364.50" y2="503.85" stroke="#111" stroke-width="0.9"/>
<line x1="364.50" y1="502.25" x2="364.50" y2="505.45" stroke="#111" stroke-width="0.9"/>
<rect x="302.10" y="510.30" width="54.00" height="4.30" fill="#fff" stroke="#111" stroke-width="1.0"/>
<line x1="356.60" y1="512.45" x2="368.30" y2="512.45" stroke="#111" stroke-width="0.9"/>
<line x1="368.30" y1="510.85" x2="368.30" y2="514.05" stroke="#111" stroke-width="0.9"/>
<line x1="297.20" y1="507.90" x2="302.10" y2="507.90" stroke="#222" stroke-width="1.0"/>
<rect x="302.10" y="523.30" width="154.50" height="5.30" fill="#000" stroke="none" stroke-width="0"/>
<line x1="456.60" y1="525.95" x2="457.70" y2="525.95" stroke="#111" stroke-width="0.9"/>
<line x1="457.70" y1="524.35" x2="457.70" y2="527.55" stroke="#111" stroke-width="0.9"/>
<rect x="302.10" y="532.40" width="54.70" height="4.30" fill="#fff" stroke="#111" stroke-width="1.0"/>
<line x1="297.20" y1="530.20" x2="302.10" y2="530.20" stroke="#222" stroke-width="1.0"/>
<rect x="302.10" y="545.60" width="55.20" height="5.30" fill="#000" stroke="none" stroke-width="0"/>
<rect x="302.10" y="554.60" width="45.60" height="4.30" fill="#fff" stroke="#111" stroke-width="1.0"/>
<line x1="348.20" y1="556.75" x2="351.30" y2="556.75" stroke="#111" stroke-width="0.9"/>
<line x1="351.30" y1="555.15" x2="351.30" y2="558.35" stroke="#111" stroke-width="0.9"/>
<line x1="297.20" y1="552.40" x2="302.10" y2="552.40" stroke="#222" stroke-width="1.0"/>
<rect x="302.10" y="568.20" width="58.80" height="5.30" fill="#000" stroke="none" stroke-width="0"/>
<line x1="360.90" y1="570.85" x2="363.20" y2="570.85" stroke="#111" stroke-width="0.9"/>
<line x1="363.20" y1="569.25" x2="363.20" y2="572.45" stroke="#111" stroke-width="0.9"/>
<rect x="302.10" y="577.30" width="50.90" height="4.30" fill="#fff" stroke="#111" stroke-width="1.0"/>
<line x1="353.50" y1="579.45" x2="357.30" y2="579.45" stroke="#111" stroke-width="0.9"/>
<line x1="357.30" y1="577.85" x2="357.30" y2="581.05" stroke="#111" stroke-width="0.9"/>
<line x1="297.20" y1="574.80" x2="302.10" y2="574.80" stroke="#222" stroke-width="1.0"/>
<rect x="302.10" y="590.50" width="128.20" height="5.30" fill="#000" stroke="none" stroke-width="0"/>
<line x1="430.30" y1="593.15" x2="438.50" y2="593.15" stroke="#111" stroke-width="0.9"/>
<line x1="438.50" y1="591.55" x2="438.50" y2="594.75" stroke="#111" stroke-width="0.9"/>
<rect x="302.10" y="599.20" width="49.80" height="4.30" fill="#fff" stroke="#111" stroke-width="1.0"/>
<line x1="352.40" y1="601.35" x2="357.30" y2="601.35" stroke="#111" stroke-width="0.9"/>
<line x1="357.30" y1="599.75" x2="357.30" y2="602.95" stroke="#111" stroke-width="0.9"/>
<line x1="297.20" y1="596.40" x2="302.10" y2="596.40" stroke="#222" stroke-width="1.0"/>
<text transform="matrix(0.09703 0 0 0.10598 228.36 444.90)" font-size="100" fill="#111" stroke="#111" stroke-width="1.25">mIgG1</text>
<text transform="matrix(0.09871 0 0 0.10598 229.05 467.40)" font-size="100" fill="#111" stroke="#111" stroke-width="1.24">17B1.3</text>
<text transform="matrix(0.09900 0 0 0.10884 228.72 489.90)" font-size="100" fill="#111" stroke="#111" stroke-width="1.26">sB7-H6</text>
<line x1="262.40" y1="482.70" x2="267.80" y2="482.70" stroke="#111" stroke-width="1.2"/>
<line x1="265.10" y1="479.90" x2="265.10" y2="485.50" stroke="#111" stroke-width="1.2"/>
<text transform="matrix(0.09703 0 0 0.10764 268.77 489.90)" font-size="100" fill="#111" stroke="#111" stroke-width="1.26">pellet</text>
<text transform="matrix(0.09900 0 0 0.10884 228.72 511.60)" font-size="100" fill="#111" stroke="#111" stroke-width="1.26">sB7-H6</text>
<line x1="264.00" y1="505.00" x2="266.70" y2="505.00" stroke="#111" stroke-width="1.2"/>
<text transform="matrix(0.09703 0 0 0.10764 268.77 511.60)" font-size="100" fill="#111" stroke="#111" stroke-width="1.26">pellet</text>
<text transform="matrix(0.09703 0 0 0.10598 228.36 534.00)" font-size="100" fill="#111" stroke="#111" stroke-width="1.25">mIgG1</text>
<text transform="matrix(0.09871 0 0 0.10598 229.05 555.80)" font-size="100" fill="#111" stroke="#111" stroke-width="1.24">17B1.3</text>
<text transform="matrix(0.09900 0 0 0.10884 228.72 578.90)" font-size="100" fill="#111" stroke="#111" stroke-width="1.26">sB7-H6</text>
<line x1="262.40" y1="570.20" x2="267.80" y2="570.20" stroke="#111" stroke-width="1.2"/>
<line x1="265.10" y1="567.40" x2="265.10" y2="573.00" stroke="#111" stroke-width="1.2"/>
<text transform="matrix(0.09703 0 0 0.10764 268.77 578.90)" font-size="100" fill="#111" stroke="#111" stroke-width="1.26">pellet</text>
<text transform="matrix(0.09900 0 0 0.10884 228.72 600.80)" font-size="100" fill="#111" stroke="#111" stroke-width="1.26">sB7-H6</text>
<line x1="264.00" y1="594.20" x2="266.70" y2="594.20" stroke="#111" stroke-width="1.2"/>
<text transform="matrix(0.09703 0 0 0.10764 268.77 600.80)" font-size="100" fill="#111" stroke="#111" stroke-width="1.26">pellet</text>
<line x1="223.00" y1="523.10" x2="223.00" y2="603.80" stroke="#222" stroke-width="1.0"/>
<text transform="matrix(0.10010 0 0 0.11178 172.68 568.90)" font-size="100" fill="#111" stroke="#111" stroke-width="1.27">K562 cells</text>
<rect x="430.60" y="450.80" width="10.60" height="5.00" fill="#000" stroke="none" stroke-width="0"/>
<text transform="matrix(0.09910 0 0 0.10455 445.69 455.80)" font-size="100" fill="#111" stroke="#111" stroke-width="1.23">NKp30</text>
<line x1="476.60" y1="450.30" x2="481.90" y2="450.30" stroke="#111" stroke-width="1.2"/>
<line x1="479.25" y1="447.40" x2="479.25" y2="453.20" stroke="#111" stroke-width="1.2"/>
<rect x="431.10" y="463.40" width="9.60" height="4.00" fill="#fff" stroke="#111" stroke-width="1.0"/>
<text transform="matrix(0.09910 0 0 0.10455 445.69 467.70)" font-size="100" fill="#111" stroke="#111" stroke-width="1.23">NKp30</text>
<line x1="477.10" y1="460.60" x2="479.90" y2="460.60" stroke="#111" stroke-width="1.2"/>
<text transform="matrix(0.09936 0 0 0.10212 483.76 467.70)" font-size="100" fill="#111" stroke="#111" stroke-width="1.22">parental</text>
</svg>
</body></html>
